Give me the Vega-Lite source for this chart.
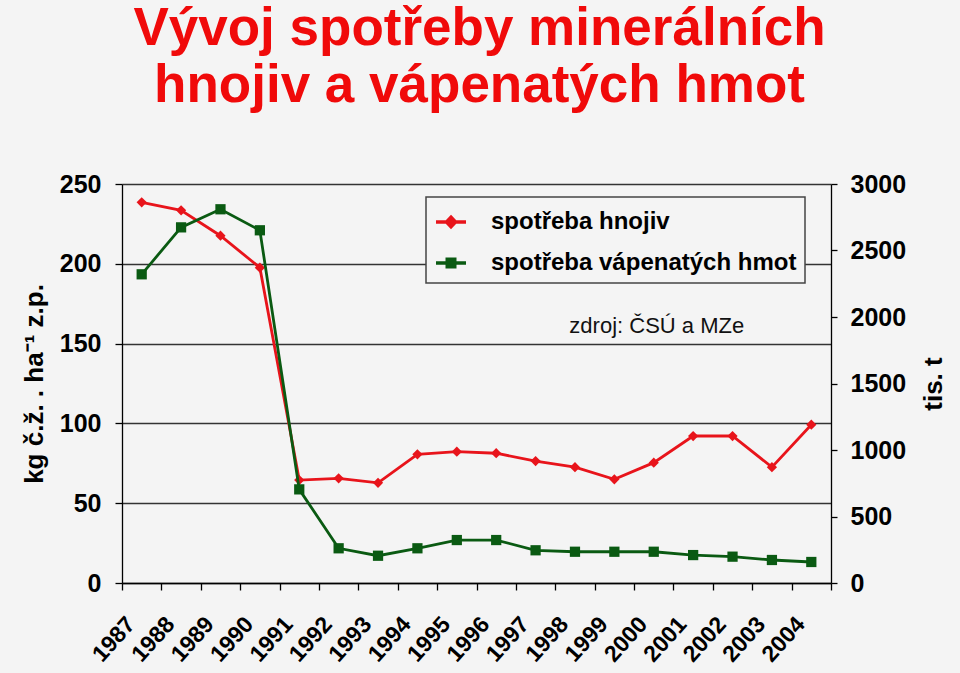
{
  "$schema": "https://vega.github.io/schema/vega-lite/v6.json",
  "width": 709,
  "height": 399,
  "autosize": {"type": "none"},
  "padding": {"left": 122, "top": 184, "right": 129, "bottom": 90},
  "background": "#f4f4f4",
  "title": {
    "text": ["Vývoj spotřeby minerálních", "hnojiv a vápenatých hmot"],
    "fontSize": 53,
    "lineHeight": 57,
    "font": "Liberation Sans",
    "fontWeight": "bold",
    "color": "#f00a0a",
    "anchor": "middle",
    "baseline": "bottom",
    "offset": 6,
    "dx": 3
  },
  "data": {
    "values": [
      {"year": "1987", "series": "spotřeba hnojiv", "value": 238.5},
      {"year": "1988", "series": "spotřeba hnojiv", "value": 233.5},
      {"year": "1989", "series": "spotřeba hnojiv", "value": 217.6},
      {"year": "1990", "series": "spotřeba hnojiv", "value": 197.6},
      {"year": "1991", "series": "spotřeba hnojiv", "value": 64.5},
      {"year": "1992", "series": "spotřeba hnojiv", "value": 65.6},
      {"year": "1993", "series": "spotřeba hnojiv", "value": 62.8},
      {"year": "1994", "series": "spotřeba hnojiv", "value": 80.6},
      {"year": "1995", "series": "spotřeba hnojiv", "value": 82.3},
      {"year": "1996", "series": "spotřeba hnojiv", "value": 81.3},
      {"year": "1997", "series": "spotřeba hnojiv", "value": 76.4},
      {"year": "1998", "series": "spotřeba hnojiv", "value": 72.6},
      {"year": "1999", "series": "spotřeba hnojiv", "value": 65.0},
      {"year": "2000", "series": "spotřeba hnojiv", "value": 75.4},
      {"year": "2001", "series": "spotřeba hnojiv", "value": 92.1},
      {"year": "2002", "series": "spotřeba hnojiv", "value": 92.1},
      {"year": "2003", "series": "spotřeba hnojiv", "value": 72.6},
      {"year": "2004", "series": "spotřeba hnojiv", "value": 99.2},
      {"year": "1987", "series": "spotřeba vápenatých hmot", "value": 2321},
      {"year": "1988", "series": "spotřeba vápenatých hmot", "value": 2674},
      {"year": "1989", "series": "spotřeba vápenatých hmot", "value": 2810},
      {"year": "1990", "series": "spotřeba vápenatých hmot", "value": 2652},
      {"year": "1991", "series": "spotřeba vápenatých hmot", "value": 704},
      {"year": "1992", "series": "spotřeba vápenatých hmot", "value": 261},
      {"year": "1993", "series": "spotřeba vápenatých hmot", "value": 205},
      {"year": "1994", "series": "spotřeba vápenatých hmot", "value": 261},
      {"year": "1995", "series": "spotřeba vápenatých hmot", "value": 323},
      {"year": "1996", "series": "spotřeba vápenatých hmot", "value": 323},
      {"year": "1997", "series": "spotřeba vápenatých hmot", "value": 246},
      {"year": "1998", "series": "spotřeba vápenatých hmot", "value": 235},
      {"year": "1999", "series": "spotřeba vápenatých hmot", "value": 235},
      {"year": "2000", "series": "spotřeba vápenatých hmot", "value": 235},
      {"year": "2001", "series": "spotřeba vápenatých hmot", "value": 210},
      {"year": "2002", "series": "spotřeba vápenatých hmot", "value": 198},
      {"year": "2003", "series": "spotřeba vápenatých hmot", "value": 173},
      {"year": "2004", "series": "spotřeba vápenatých hmot", "value": 158}
    ]
  },
  "layer": [
    {
      "transform": [{"filter": "datum.series == 'spotřeba hnojiv'"}],
      "mark": {"type": "line", "strokeWidth": 2.8, "point": {"shape": "diamond", "filled": true, "size": 105}},
      "encoding": {
        "x": {
          "field": "year", "type": "ordinal", "bandPosition": 0.5,
          "scale": {"type": "band", "paddingInner": 0, "paddingOuter": 0},
          "axis": {
            "title": null, "labelAngle": -48, "labelAlign": "right", "labelBaseline": "middle",
            "labelFontSize": 23, "labelFontWeight": "bold", "labelPadding": 30, "labelOffset": -11,
            "tickBand": "extent", "tickSize": 7, "grid": false
          }
        },
        "y": {
          "field": "value", "type": "quantitative",
          "scale": {"domain": [0, 250], "nice": false},
          "axis": {
            "orient": "left", "title": "kg č.ž. . ha⁻¹ z.p.", "values": [0, 50, 100, 150, 200, 250],
            "grid": true, "gridColor": "#333333", "gridWidth": 1.3, "tickSize": 7,
            "labelFontSize": 25, "labelFontWeight": "bold", "labelPadding": 14,
            "titleFontSize": 26, "titlePadding": 12
          }
        },
        "color": {
          "field": "series", "type": "nominal",
          "scale": {"domain": ["spotřeba hnojiv", "spotřeba vápenatých hmot"], "range": ["#e8141b", "#0a5a12"]},
          "legend": {
            "title": null, "orient": "none", "legendX": 304, "legendY": 13,
            "padding": 8, "fillColor": "#f4f4f4", "strokeColor": "#444444",
            "labelFontSize": 24, "labelFont": "Liberation Sans", "labelFontWeight": "bold", "labelColor": "#000000",
            "labelOffset": 23, "rowPadding": 12, "symbolSize": 900, "labelLimit": 400,
            "encode": {
              "legend": {"update": {"strokeWidth": {"value": 1.5}}},
              "symbols": {
                "update": {
                  "shape": {"signal": "datum.value === 'spotřeba hnojiv' ? 'M-1,0L1,0M0,-0.32L0.3,0L0,0.32L-0.3,0Z' : 'M-1,0L1,0M-0.25,-0.25L0.25,-0.25L0.25,0.25L-0.25,0.25Z'"},
                  "fill": {"signal": "datum.value === 'spotřeba hnojiv' ? '#e8141b' : '#0a5a12'"},
                  "stroke": {"signal": "datum.value === 'spotřeba hnojiv' ? '#e8141b' : '#0a5a12'"},
                  "strokeWidth": {"value": 3.5},
                  "fillOpacity": {"value": 1},
                  "opacity": {"value": 1}
                }
              }
            }
          }
        }
      }
    },
    {
      "transform": [{"filter": "datum.series == 'spotřeba vápenatých hmot'"}],
      "mark": {"type": "line", "strokeWidth": 2.8, "point": {"shape": "square", "filled": true, "size": 105}},
      "encoding": {
        "x": {"field": "year", "type": "ordinal", "bandPosition": 0.5},
        "y": {
          "field": "value", "type": "quantitative",
          "scale": {"domain": [0, 3000], "nice": false},
          "axis": {
            "orient": "right", "title": "tis. t", "values": [0, 500, 1000, 1500, 2000, 2500, 3000], "format": "d",
            "grid": false, "tickSize": 6,
            "labelFontSize": 25, "labelFontWeight": "bold", "labelPadding": 13,
            "titleFontSize": 26, "titlePadding": 15, "titleAngle": 270, "titleBaseline": "top"
          }
        },
        "color": {"field": "series", "type": "nominal"}
      }
    },
    {
      "data": {"values": [{}]},
      "mark": {"type": "text", "text": "zdroj: ČSÚ a MZe", "fontSize": 22, "font": "Liberation Sans", "color": "#111111", "dx": 3},
      "encoding": {
        "x": {"datum": "2000", "type": "ordinal"},
        "y": {"datum": 161, "type": "quantitative", "scale": {"domain": [0, 250], "nice": false}, "axis": null}
      }
    }
  ],
  "resolve": {"scale": {"y": "independent"}},
  "config": {
    "font": "Liberation Sans",
    "view": {"stroke": null},
    "axis": {
      "labelFont": "Liberation Sans", "titleFont": "Liberation Sans",
      "labelColor": "#000000", "titleColor": "#000000", "titleFontWeight": "bold",
      "domainColor": "#000000", "tickColor": "#000000", "domainWidth": 1.3, "tickWidth": 1.3
    }
  }
}
